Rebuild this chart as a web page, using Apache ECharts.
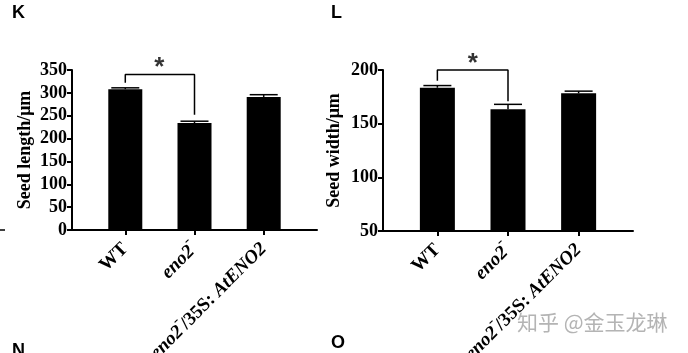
<!DOCTYPE html>
<html>
<head>
<meta charset="utf-8">
<script src="https://cdn.jsdelivr.net/npm/echarts@6/dist/echarts.min.js"></script>
<style>
  html, body { margin: 0; padding: 0; background: #fff; }
  #chart { width: 688px; height: 353px; }
</style>
</head>
<body>
<div id="chart"></div>
<script>
// groups along the x axis (index 0..2)
const groups = ['WT', 'eno2-', 'eno2-/35S: AtENO2'];
const groupIdx = [0, 1, 2];

// panel K: seed length
const lengthMean = [308, 234, 291];
const lengthErr = [3, 4, 5];
const lengthTicks = [0, 350, 50];
// significance bracket K: [x, y] in data units
const lengthBracket = [[0, 322], [0, 340], [1, 340], [1, 252]];
const lengthStar = [[0.49, 355]];

// panel L: seed width
const widthMean = [183.5, 163.5, 178.3];
const widthErr = [2, 4.5, 2];
const widthTicks = [50, 200, 50];
const widthBracket = [[0, 190], [0, 200], [1, 200], [1, 171]];
const widthStar = [[0.5, 206]];

const serif = 'Liberation Serif';

const labelFmt = (v) => {
    const i = Math.round(v);
    if (i === 0) return '{b|WT}';
    if (i === 1) return '{i|eno2}{s|⁻}';
    return '{i|eno2}{s|⁻}{b|/35S: }{i|AtENO2}';
};

const richText = {
    b: { fontFamily: serif, fontWeight: 'bold', fontSize: 19, color: '#000' },
    i: { fontFamily: serif, fontWeight: 'bold', fontStyle: 'italic', fontSize: 19, color: '#000' },
    s: { fontFamily: serif, fontWeight: 'bold', fontSize: 13, color: '#000', padding: [0, 0, 9, 0] },
};

const makeXAxis = (gridIndex) => ({
    type: 'value',
    gridIndex,
    min: -0.77,
    max: 2.77,
    splitLine: { show: false },
    axisLine: { show: true, onZero: false, lineStyle: { color: '#000', width: 2 } },
    axisTick: { show: true, customValues: groupIdx, length: 5, lineStyle: { color: '#000', width: 2 } },
    axisLabel: {
        customValues: groupIdx,
        rotate: 45,
        margin: 16,
        formatter: labelFmt,
        rich: richText,
    },
});

const makeYAxis = (gridIndex, ticks, name, gap) => ({
    type: 'value',
    gridIndex,
    min: ticks[0],
    max: ticks[1],
    interval: ticks[2],
    name,
    nameLocation: 'middle',
    nameGap: gap,
    nameTextStyle: { fontFamily: serif, fontWeight: 'bold', fontSize: 18, color: '#000' },
    splitLine: { show: false },
    axisLine: { show: true, onZero: false, lineStyle: { color: '#000', width: 2 } },
    axisTick: { show: true, length: 5, lineStyle: { color: '#000', width: 2 } },
    axisLabel: { fontFamily: serif, fontWeight: 'bold', fontSize: 18, color: '#000', margin: 5 },
});

const pairs = (vals) => vals.map((v, i) => [groupIdx[i], v]);

const errorSeries = (axisIdx, mean, err) => ({
    type: 'custom',
    xAxisIndex: axisIdx,
    yAxisIndex: axisIdx,
    z: 5,
    data: mean.map((m, i) => [groupIdx[i], m, m + err[i]]),
    renderItem: (params, api) => {
        const lo = api.coord([api.value(0), api.value(1)]);
        const hi = api.coord([api.value(0), api.value(2)]);
        const hw = 14;
        const style = { stroke: '#000', lineWidth: 1.5 };
        return {
            type: 'group',
            children: [
                { type: 'line', shape: { x1: lo[0], y1: lo[1], x2: hi[0], y2: hi[1] }, style },
                { type: 'line', shape: { x1: hi[0] - hw, y1: hi[1], x2: hi[0] + hw, y2: hi[1] }, style },
            ],
        };
    },
});

const barSeries = (axisIdx, mean, w) => ({
    type: 'bar',
    xAxisIndex: axisIdx,
    yAxisIndex: axisIdx,
    barWidth: w,
    itemStyle: { color: '#000' },
    data: pairs(mean),
});

const bracketSeries = (axisIdx, pts) => ({
    type: 'line',
    xAxisIndex: axisIdx,
    yAxisIndex: axisIdx,
    symbol: 'none',
    clip: false,
    lineStyle: { color: '#000', width: 1.5 },
    data: pts,
});

const starSeries = (axisIdx, pts) => ({
    type: 'scatter',
    xAxisIndex: axisIdx,
    yAxisIndex: axisIdx,
    symbolSize: 1,
    itemStyle: { color: 'transparent' },
    clip: false,
    label: {
        show: true,
        position: 'inside',
        formatter: '*',
        fontFamily: 'Liberation Sans',
        fontWeight: 'bold',
        fontSize: 26,
        color: '#000',
    },
    data: pts,
});

const chart = echarts.init(document.getElementById('chart'));
chart.setOption({
    animation: false,
    backgroundColor: '#fff',
    grid: [
        { left: 72, right: 371, top: 70, bottom: 123, outerBoundsMode: 'none', containLabel: false },
        { left: 383, right: 55, top: 70, bottom: 122, outerBoundsMode: 'none', containLabel: false },
    ],
    xAxis: [makeXAxis(0), makeXAxis(1)],
    yAxis: [
        makeYAxis(0, lengthTicks, 'Seed length/μm', 38),
        makeYAxis(1, widthTicks, 'Seed width/μm', 40),
    ],
    series: [
        barSeries(0, lengthMean, 34),
        errorSeries(0, lengthMean, lengthErr),
        bracketSeries(0, lengthBracket),
        starSeries(0, lengthStar),
        barSeries(1, widthMean, 35),
        errorSeries(1, widthMean, widthErr),
        bracketSeries(1, widthBracket),
        starSeries(1, widthStar),
    ],
    graphic: [
        { type: 'text', left: 12, top: 4, style: { text: 'K', font: 'bold 18px "Liberation Sans"', fill: '#000' } },
        { type: 'text', left: 331, top: 4, style: { text: 'L', font: 'bold 18px "Liberation Sans"', fill: '#000' } },
        { type: 'text', left: 12, top: 342, style: { text: 'N', font: 'bold 18px "Liberation Sans"', fill: '#000' } },
        { type: 'text', left: 331, top: 334, style: { text: 'O', font: 'bold 18px "Liberation Sans"', fill: '#000' } },
        { type: 'line', shape: { x1: 0, y1: 230, x2: 5, y2: 230 }, style: { stroke: '#000', lineWidth: 1.5 } },
        {
            type: 'text', left: 517, top: 312,
            style: { text: '知乎 @金玉龙琳', font: '21px "Noto Sans CJK SC"', fill: '#b4b4b4' },
        },
    ],
});
</script>
</body>
</html>
